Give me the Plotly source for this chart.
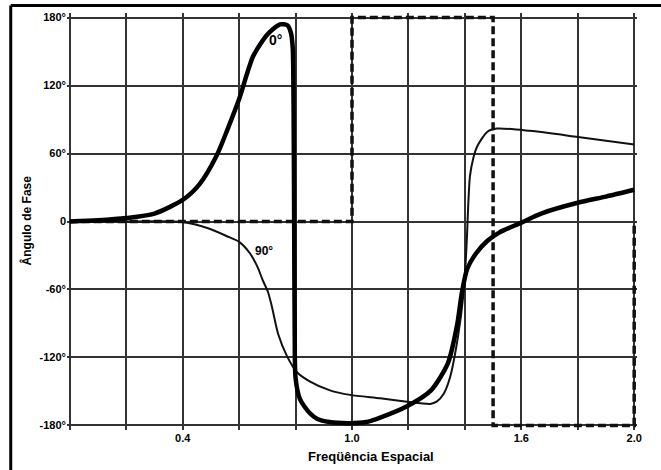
import plotly.graph_objects as go

# Spatial frequency axis (grid every 0.2) and phase axis (grid every 60 degrees)
x_grid = [0.0, 0.2, 0.4, 0.6, 0.8, 1.0, 1.2, 1.4, 1.6, 1.8, 2.0]
x_labels = ["", "", "0.4", "", "", "1.0", "", "", "1.6", "", "2.0"]
y_grid = [-180, -120, -60, 0, 60, 120, 180]
y_labels = ["-180°", "-120°", "-60°", "0", "60°", "120°", "180°"]

# Phase curve labelled 0°
freq_0 = [0.00, 0.10, 0.20, 0.30, 0.40, 0.46, 0.52, 0.56, 0.60, 0.65, 0.70, 0.745,
          0.772, 0.784, 0.79, 0.793, 0.795, 0.797, 0.80, 0.816, 0.85, 0.876, 0.92,
          0.99, 1.05, 1.10, 1.195, 1.28, 1.34, 1.372, 1.39, 1.408, 1.44, 1.48,
          1.52, 1.60, 1.67, 1.80, 1.90, 2.00]
phase_0 = [0, 1, 3, 7, 19, 33, 58, 82, 108, 146, 165, 174,
           173, 166, 153, 100, 0, -100, -138, -157, -169, -174, -177,
           -178, -177, -173, -163, -149, -125, -92, -62, -42, -28, -17,
           -10, -1, 7, 16.5, 22, 28]

# Phase curve labelled 90°
freq_90 = [0.00, 0.20, 0.40, 0.49, 0.557, 0.60, 0.638, 0.665, 0.684, 0.702, 0.716,
           0.738, 0.77, 0.805, 0.85, 0.922, 0.993, 1.10, 1.195, 1.277, 1.30, 1.325,
           1.348, 1.376, 1.394, 1.403, 1.408, 1.412, 1.418, 1.43, 1.443, 1.479,
           1.514, 1.631, 1.801, 2.00]
phase_90 = [0, 0, -0.5, -6, -13, -18, -28, -40, -52, -62, -75,
            -99, -119, -133, -141, -149, -153, -156, -159, -161, -159, -152,
            -137, -101, -66, -35, -10, 15, 40, 56, 66, 79,
            82, 80, 74.6, 68]

# Dashed step curve
freq_step = [0.0, 1.0, 1.0, 1.5, 1.5, 2.0, 2.0]
phase_step = [0, 0, 180, 180, -180, -180, 0]

fig = go.Figure()

fig.add_trace(go.Scatter(x=freq_step, y=phase_step, mode="lines",
                         line=dict(color="#111", width=3.5, dash="8px,4px"),
                         showlegend=False, hoverinfo="skip"))
fig.add_trace(go.Scatter(x=freq_90, y=phase_90, mode="lines",
                         line=dict(color="#111", width=2, shape="spline", smoothing=0.7),
                         showlegend=False, hoverinfo="skip"))
fig.add_trace(go.Scatter(x=freq_0, y=phase_0, mode="lines",
                         line=dict(color="#000", width=4.5, shape="spline", smoothing=0.7),
                         showlegend=False, hoverinfo="skip"))

# Curve labels
fig.add_annotation(x=0.73, y=160, text="<b>0°</b>", showarrow=False,
                   font=dict(family="Liberation Sans", size=14, color="#000"))
fig.add_annotation(x=0.688, y=-26, text="<b>90°</b>", showarrow=False,
                   font=dict(family="Liberation Sans", size=12, color="#000"))

# Axis titles
fig.add_annotation(xref="paper", yref="paper", x=-0.0706, y=0.502,
                   text="<b>Ângulo de Fase</b>", textangle=-90, showarrow=False,
                   xanchor="center", yanchor="middle",
                   font=dict(family="Liberation Sans", size=12, color="#000"))
fig.add_annotation(xref="paper", yref="paper", x=0.533, y=-0.0635,
                   text="<b>Freqüência Espacial</b>", showarrow=False,
                   xanchor="center", yanchor="middle",
                   font=dict(family="Liberation Sans", size=13, color="#000"))

# Frame lines on the left and top edges of the page
fig.add_shape(type="line", xref="paper", yref="paper",
              x0=-0.0987, x1=-0.0987, y0=1.018, y1=-0.12,
              line=dict(color="#000", width=3))
fig.add_shape(type="line", xref="paper", yref="paper",
              x0=-0.0987, x1=1.06, y0=1.018, y1=1.018,
              line=dict(color="#000", width=3))

fig.update_xaxes(range=[-0.01, 2.01], tickmode="array", tickvals=x_grid,
                 ticktext=[f"<b>{t}</b>" if t else "" for t in x_labels],
                 showgrid=True, gridcolor="#333", gridwidth=1.6,
                 zeroline=False, showline=False, ticks="",
                 tickfont=dict(family="Liberation Sans", size=11, color="#000"))
fig.update_yaxes(range=[-184, 184], tickmode="array", tickvals=y_grid,
                 ticktext=[f"<b>{t}</b>" for t in y_labels],
                 showgrid=True, gridcolor="#333", gridwidth=1.6,
                 zeroline=False, showline=False, ticks="",
                 tickfont=dict(family="Liberation Sans", size=11, color="#000"))

fig.update_layout(width=661, height=470,
                  margin=dict(l=67, r=24, t=13, b=40, autoexpand=False),
                  paper_bgcolor="white", plot_bgcolor="white")

fig.write_html("out.html")
